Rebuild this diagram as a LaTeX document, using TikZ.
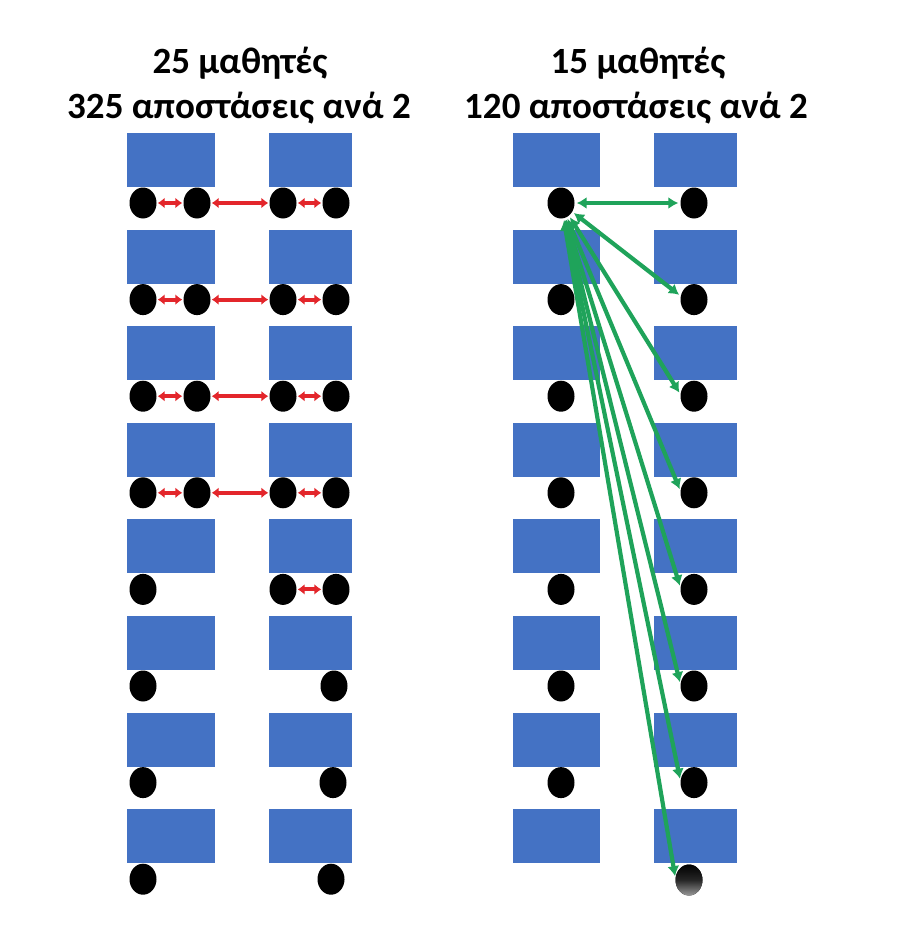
\documentclass[tikz,border=0pt]{standalone}
\usepackage{fontspec}
\setmainfont{Carlito}
\usetikzlibrary{shapes.geometric,arrows.meta}
\definecolor{deskblue}{HTML}{4472C4}
\definecolor{arrred}{HTML}{E3262B}
\definecolor{arrgreen}{HTML}{1FA35A}
\begin{document}
\begin{tikzpicture}[x=1pt,y=-1pt,
  desk/.style={fill=deskblue, draw=none, minimum height=54pt, inner sep=0pt},
  pupil/.style={ellipse, fill=black, minimum width=27pt, minimum height=31pt, inner sep=0pt},
  redarr/.style={draw=arrred, line width=4pt, {Latex[length=7pt,width=11pt]}-{Latex[length=7pt,width=11pt]}, shorten >=1pt, shorten <=1pt},
  greenarr/.style={draw=arrgreen, line width=4.2pt, {Latex[length=10pt,width=12pt]}-{Latex[length=10pt,width=12pt]}, shorten >=2pt, shorten <=2pt},
  title/.style={font=\bfseries\fontsize{37}{44}\selectfont, anchor=base}]
\useasboundingbox (0,0) rectangle (908,931);
% titles
\node[title] (tl1) at (240,74) {25 μαθητές};
\node[title] (tl2) at (239,118) {325 αποστάσεις ανά 2};
\node[title] (tr1) at (638,74) {15 μαθητές};
\node[title] (tr2) at (636,118) {120 αποστάσεις ανά 2};
% desks
\foreach \r in {1,...,8}{
  \pgfmathsetmacro\t{133+96.6*(\r-1)}
  \node[desk, minimum width=88pt] (LDa\r) at (171,{\t+27}) {};
  \node[desk, minimum width=83pt] (LDb\r) at (310.5,{\t+27}) {};
  \node[desk, minimum width=87pt] (RDa\r) at (556.5,{\t+27}) {};
  \node[desk, minimum width=83pt] (RDb\r) at (695.5,{\t+27}) {};
}
% left panel pupils
\foreach \r in {1,...,4}{
  \pgfmathsetmacro\t{133+96.6*(\r-1)+70}
  \node[pupil] (La\r) at (143,\t) {};
  \node[pupil] (Lb\r) at (197,\t) {};
  \node[pupil] (Lc\r) at (283,\t) {};
  \node[pupil] (Ld\r) at (336,\t) {};
  \draw[redarr] (La\r) -- (Lb\r);
  \draw[redarr] (Lb\r) -- (Lc\r);
  \draw[redarr] (Lc\r) -- (Ld\r);
}
\node[pupil] (La5) at (143,589.4) {};
\node[pupil] (Lc5) at (283,589.4) {};
\node[pupil] (Ld5) at (336,589.4) {};
\draw[redarr] (Lc5) -- (Ld5);
\node[pupil] (La6) at (143,686) {};
\node[pupil] (Ld6) at (334,686) {};
\node[pupil] (La7) at (143,782.6) {};
\node[pupil] (Ld7) at (333,782.6) {};
\node[pupil] (La8) at (143,879.2) {};
\node[pupil] (Ld8) at (331,879.2) {};
% right panel pupils
\foreach \r in {1,...,7}{
  \pgfmathsetmacro\t{133+96.6*(\r-1)+70}
  \node[pupil] (Ra\r) at (561,\t) {};
  \node[pupil] (Rb\r) at (694,\t) {};
}
\node[pupil, top color=black, bottom color=black!40, middle color=black!85] (Rb8) at (689,880) {};
% green arrows
\draw[greenarr] (Ra1) -- (Rb1);
\draw[greenarr] (Ra1) -- (Rb2.165);
\foreach \r in {3,...,8}{
  \draw[greenarr] (Ra1) -- (Rb\r.172);
}
\end{tikzpicture}
\end{document}
